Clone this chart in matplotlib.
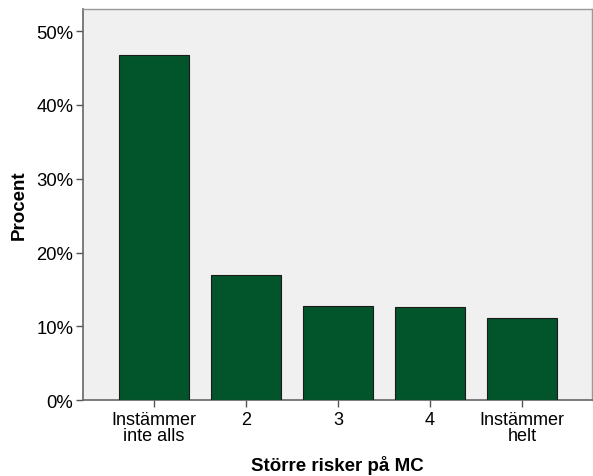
import matplotlib
matplotlib.use("Agg")
import matplotlib.pyplot as plt
from matplotlib.ticker import FuncFormatter

categories = ["Instämmer\ninte alls", "2", "3", "4", "Instämmer\nhelt"]
values = [46.8, 16.9, 12.7, 12.6, 11.2]
yticks = [0, 10, 20, 30, 40, 50]

plt.rcParams['font.family'] = ['Liberation Sans', 'DejaVu Sans']

fig = plt.figure(figsize=(5.93, 4.77), dpi=100)
ax = fig.add_axes([0.140, 0.159, 0.858, 0.820])
ax.set_facecolor("#f0f0f0")

x = list(range(len(categories)))
ax.bar(x, values, width=0.76, color="#02542a", edgecolor="#1a1a1a", linewidth=0.8, zorder=3)

ax.set_xlim(-0.77, 4.76)
ax.set_ylim(0, 53)
ax.set_yticks(yticks)
ax.yaxis.set_major_formatter(FuncFormatter(lambda v, p: f"{int(v)}%"))
ax.set_xticks(x)
ax.set_xticklabels(categories, fontsize=13, linespacing=0.9)
ax.tick_params(axis='y', labelsize=13.3, length=5, color="#555555", width=1, pad=2)
ax.tick_params(axis='x', length=5, color="#555555", width=1, pad=3)

for s in ["left", "bottom"]:
    ax.spines[s].set_color("#666666")
    ax.spines[s].set_linewidth(1.2)
for s in ["top", "right"]:
    ax.spines[s].set_color("#999999")
    ax.spines[s].set_linewidth(1.0)

ax.set_ylabel("Procent", fontsize=13.5, fontweight="bold", labelpad=6)
ax.set_xlabel("Större risker på MC", fontsize=13.5, fontweight="bold", labelpad=8)

fig.savefig("out.png", dpi=100)
